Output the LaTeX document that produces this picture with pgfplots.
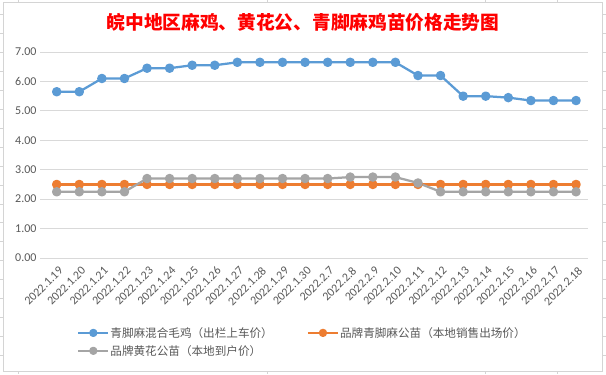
\documentclass[border=0pt]{standalone}
\usepackage{pgfplots}
\pgfplotsset{compat=1.18}
\usepackage{pgfplotstable}
\usepackage{fontspec}
\setmainfont{Carlito}
\newfontfamily\cjk{Noto Sans CJK SC}
\definecolor{cblue}{HTML}{5B9BD5}
\definecolor{corange}{HTML}{ED7D31}
\definecolor{cgray}{HTML}{A5A5A5}
\definecolor{grid}{HTML}{D9D9D9}
\definecolor{txt}{HTML}{595959}
\definecolor{cell}{HTML}{D4D4D4}
\pgfplotstableread{
x blue orange gray
0 5.65 2.5 2.25
1 5.65 2.5 2.25
2 6.10 2.5 2.25
3 6.10 2.5 2.25
4 6.45 2.5 2.70
5 6.45 2.5 2.70
6 6.55 2.5 2.70
7 6.55 2.5 2.70
8 6.65 2.5 2.70
9 6.65 2.5 2.70
10 6.65 2.5 2.70
11 6.65 2.5 2.70
12 6.65 2.5 2.70
13 6.65 2.5 2.75
14 6.65 2.5 2.75
15 6.65 2.5 2.75
16 6.20 2.5 2.55
17 6.20 2.5 2.25
18 5.50 2.5 2.25
19 5.50 2.5 2.25
20 5.45 2.5 2.25
21 5.35 2.5 2.25
22 5.35 2.5 2.25
23 5.35 2.5 2.25
}\datatable
\begin{document}
\begin{tikzpicture}[x=1bp,y=1bp]
\fill[white] (0,0) rectangle (606,374);
% spreadsheet cell lines outside the chart
\foreach \xx in {18,267,485,557} {
  \draw[cell,line width=0.6bp] (\xx,371) -- (\xx,373.7);
  \draw[cell,line width=0.6bp] (\xx,0.3) -- (\xx,3);
}
\foreach \k in {0,...,18} {
  \draw[cell,line width=0.6bp] (0.3,{19+18.9*\k}) -- (3.3,{19+18.9*\k});
  \draw[cell,line width=0.6bp] (602,{19+18.9*\k}) -- (605.7,{19+18.9*\k});
}
\draw[cell,line width=0.6bp,fill=white] (3.3,3) rectangle (602,371.3);
\node[font=\cjk\bfseries\fontsize{18.7bp}{20bp}\selectfont, text=red] at (303,352) {皖中地区麻鸡、黄花公、青脚麻鸡苗价格走势图};
\begin{axis}[
  at={(40bp,116bp)}, anchor=south west,
  scale only axis, width=548bp, height=206bp,
  xmin=-0.74, xmax=23.53, ymin=0, ymax=7,
  axis line style={draw=none},
  major tick style={draw=none},
  ymajorgrids, grid style={draw=grid, line width=0.75bp},
  ytick={0,1,2,3,4,5,6,7},
  yticklabel style={/pgf/number format/.cd, fixed, fixed zerofill, precision=2, assume math mode=true},
  xtick={0,...,23},
  xticklabels={2022.1.19,2022.1.20,2022.1.21,2022.1.22,2022.1.23,2022.1.24,2022.1.25,2022.1.26,2022.1.27,2022.1.28,2022.1.29,2022.1.30,2022.2.7,2022.2.8,2022.2.9,2022.2.10,2022.2.11,2022.2.12,2022.2.13,2022.2.14,2022.2.15,2022.2.16,2022.2.17,2022.2.18},
  xticklabel style={anchor=east, xshift=5bp, yshift=-10bp, rotate=45, inner sep=1bp},
  tick label style={font=\fontsize{12bp}{14bp}\selectfont, text=txt},
  clip=false,
  legend columns=2,
  legend cell align=left,
  legend image code/.code={\draw[#1, mark repeat=2, mark phase=2, mark size=3bp] plot coordinates {(0bp,0bp) (15bp,0bp) (30bp,0bp)};},
  legend style={draw=none, fill=none, inner sep=0pt, at={(0.0675,-0.330)}, anchor=north west,
    font=\cjk\fontsize{11.6bp}{13bp}\selectfont, text=txt,
    nodes={inner sep=1bp},
    row sep=4.5bp,
    /tikz/every even column/.append style={column sep=33bp}},
  every axis plot/.append style={line width=2.25bp, mark=*, mark size=3.6bp, line join=round},
]
\addplot[cblue, mark options={fill=cblue, draw=cblue}] table[x=x, y=blue] {\datatable};
\addlegendentry{青脚麻混合毛鸡（出栏上车价）}
\addplot[corange, mark options={fill=corange, draw=corange}] table[x=x, y=orange] {\datatable};
\addlegendentry{品牌青脚麻公苗（本地销售出场价）}
\addplot[cgray, mark options={fill=cgray, draw=cgray}] table[x=x, y=gray] {\datatable};
\addlegendentry{品牌黄花公苗（本地到户价）}
\end{axis}
\end{tikzpicture}
\end{document}
